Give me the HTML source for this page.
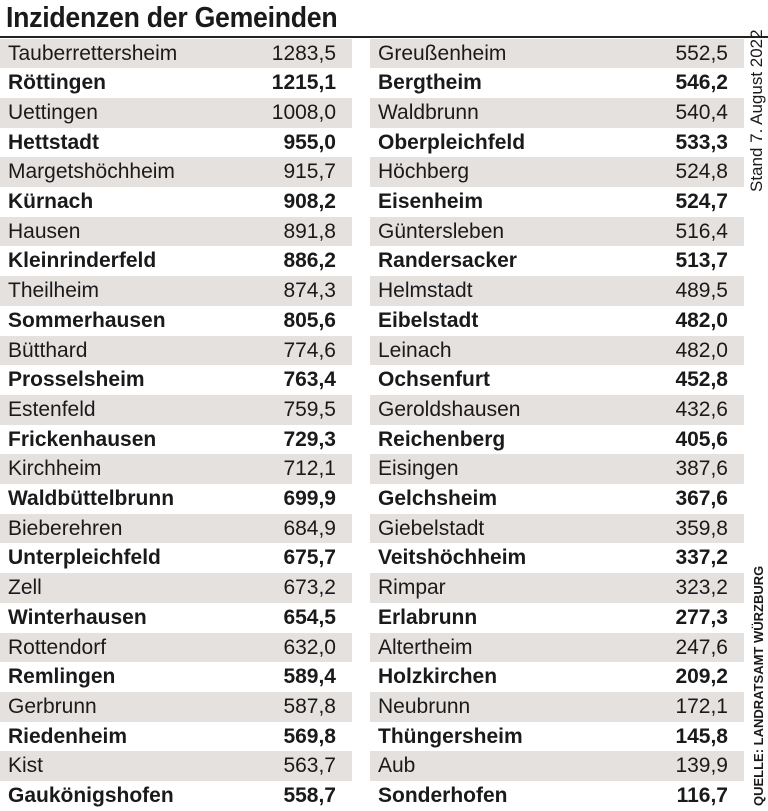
<!DOCTYPE html>
<html><head><meta charset="utf-8"><style>
body{margin:0;width:768px;height:810px;background:#fff;overflow:hidden;position:relative;font-family:"Liberation Sans Narrow","Liberation Sans",sans-serif;color:#1a1a1a}
#title{position:absolute;left:6px;top:0;font-size:29px;font-weight:bold;letter-spacing:-0.3px;line-height:36px;transform:scaleX(0.92);transform-origin:left}
#rule{position:absolute;left:0;top:36px;width:768px;height:2px;background:#222}
.row{position:absolute;height:29.7px;font-size:21px;line-height:29.7px}
.row.g{background:#e5e1df}
.row span{position:absolute;top:0}
.row .v{right:16px}
.row .n{left:8px}
.b{font-weight:bold}
.vt{position:absolute;transform:rotate(-90deg);transform-origin:left top;white-space:nowrap}
</style></head><body>
<div id="title">Inzidenzen der Gemeinden</div>
<div id="rule"></div>
<div id="table"></div>
<div class="vt" style="left:747px;top:192px;font-size:17px;line-height:20px">Stand 7. August 2022</div>
<div class="vt" style="left:751px;top:806px;font-size:13px;font-weight:bold;line-height:16px">QUELLE: LANDRATSAMT WÜRZBURG</div>
<script>
const leftNames=["Tauberrettersheim","Röttingen","Uettingen","Hettstadt","Margetshöchheim","Kürnach","Hausen","Kleinrinderfeld","Theilheim","Sommerhausen","Bütthard","Prosselsheim","Estenfeld","Frickenhausen","Kirchheim","Waldbüttelbrunn","Bieberehren","Unterpleichfeld","Zell","Winterhausen","Rottendorf","Remlingen","Gerbrunn","Riedenheim","Kist","Gaukönigshofen"];
const leftValues=["1283,5","1215,1","1008,0","955,0","915,7","908,2","891,8","886,2","874,3","805,6","774,6","763,4","759,5","729,3","712,1","699,9","684,9","675,7","673,2","654,5","632,0","589,4","587,8","569,8","563,7","558,7"];
const rightNames=["Greußenheim","Bergtheim","Waldbrunn","Oberpleichfeld","Höchberg","Eisenheim","Güntersleben","Randersacker","Helmstadt","Eibelstadt","Leinach","Ochsenfurt","Geroldshausen","Reichenberg","Eisingen","Gelchsheim","Giebelstadt","Veitshöchheim","Rimpar","Erlabrunn","Altertheim","Holzkirchen","Neubrunn","Thüngersheim","Aub","Sonderhofen"];
const rightValues=["552,5","546,2","540,4","533,3","524,8","524,7","516,4","513,7","489,5","482,0","482,0","452,8","432,6","405,6","387,6","367,6","359,8","337,2","323,2","277,3","247,6","209,2","172,1","145,8","139,9","116,7"];
const table=document.getElementById('table');
function col(names,vals,x,w,side){
  names.forEach((nm,i)=>{
    const r=document.createElement('div');
    r.className='row'+(i%2===0?' g':' b');
    
    
    r.style.left=x+'px';r.style.width=w+'px';r.style.top=(38.5+i*29.7)+'px';
    const a=document.createElement('span');a.className='n';a.textContent=nm;
    
    
    const v=document.createElement('span');v.className='v';v.textContent=vals[i];
    
    
    r.appendChild(a);r.appendChild(v);table.appendChild(r);
  });
}
col(leftNames,leftValues,0,352,'left');
col(rightNames,rightValues,370,374,'right');
</script>
</body></html>
